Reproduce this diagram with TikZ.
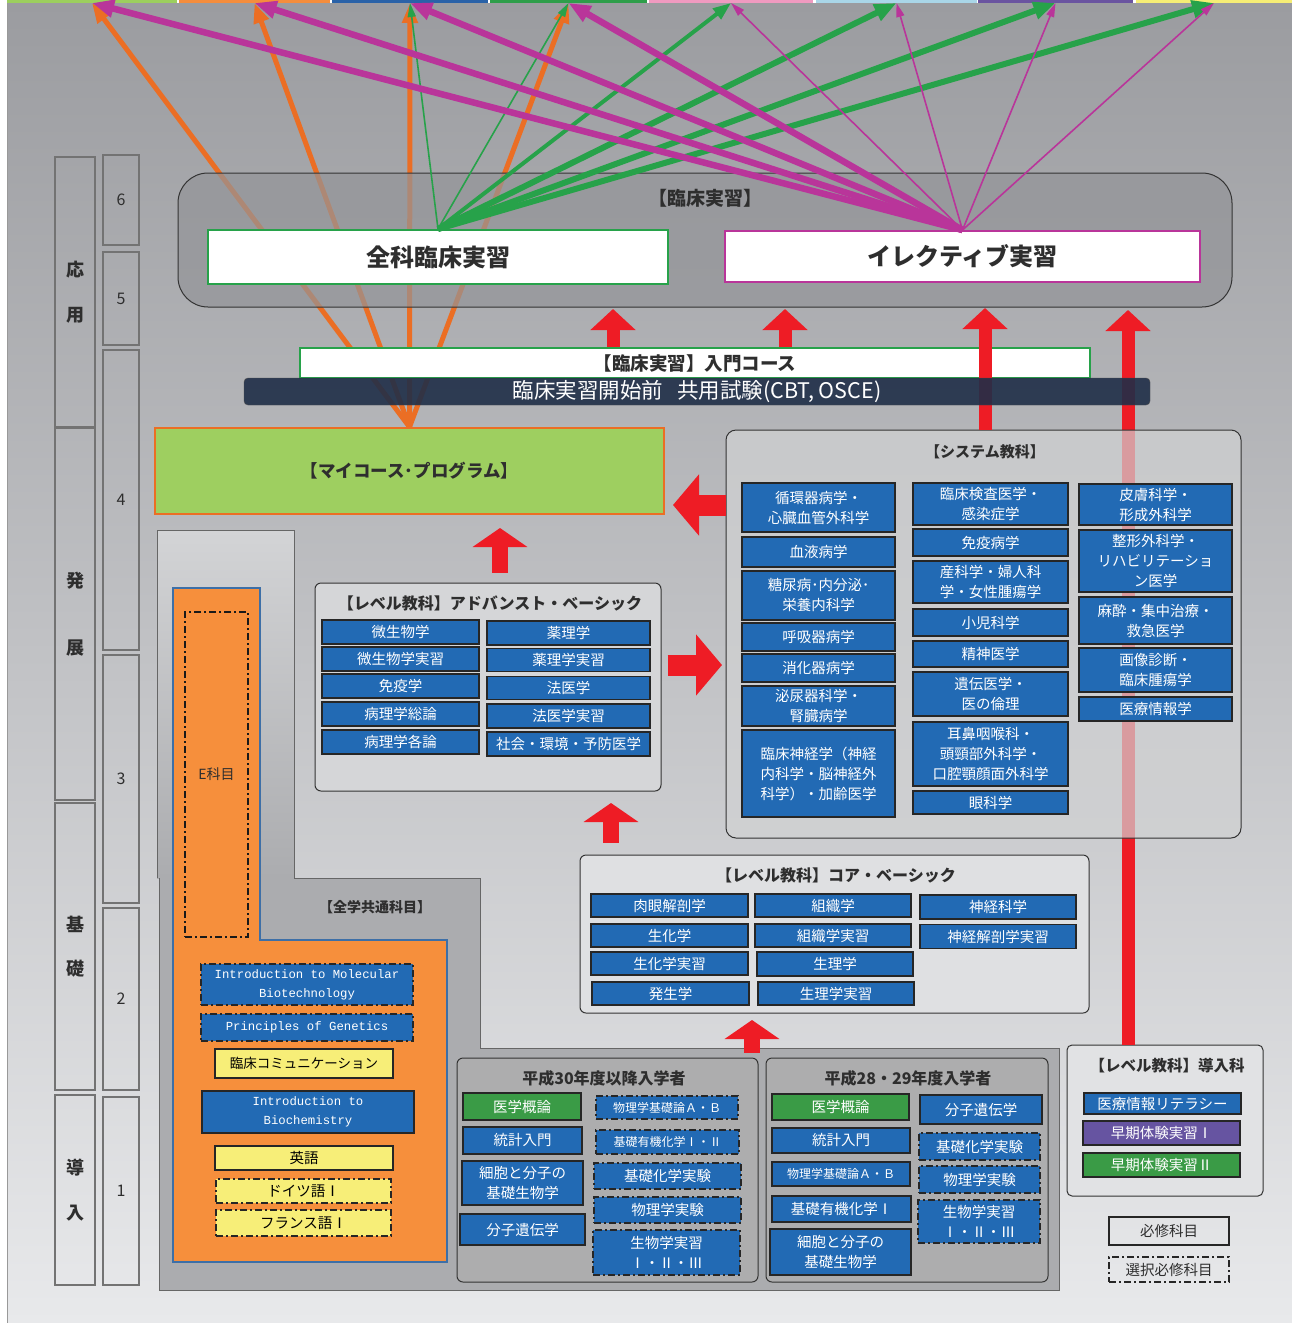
\documentclass[tikz,border=0pt]{standalone}
\usepackage{fontspec}
\setmainfont{Noto Sans CJK JP}
\newfontfamily\monofont{Liberation Mono}
\usetikzlibrary{arrows.meta}

\definecolor{bgtop}{HTML}{9B9CA0}
\definecolor{bgbot}{HTML}{E8E9EB}
\definecolor{segA}{HTML}{9CCF5E}
\definecolor{segB}{HTML}{F58D3D}
\definecolor{segC}{HTML}{2A62A8}
\definecolor{segD}{HTML}{2E9E4A}
\definecolor{segE}{HTML}{F09AC0}
\definecolor{segF}{HTML}{A9D6E8}
\definecolor{segG}{HTML}{6A54A0}
\definecolor{segH}{HTML}{F6EE75}
\definecolor{itemblue}{HTML}{226AB4}
\definecolor{itemgreen}{HTML}{3A9B46}
\definecolor{itempurple}{HTML}{6654A1}
\definecolor{itemyellow}{HTML}{F7EE78}
\definecolor{regionorange}{HTML}{F68F3C}
\definecolor{regionblue}{HTML}{3D6FA7}
\definecolor{courselime}{HTML}{9ECF60}
\definecolor{lineorange}{HTML}{EB6E24}
\definecolor{linegreen}{HTML}{27A24A}
\definecolor{linemagenta}{HTML}{B9359A}
\definecolor{arrowred}{HTML}{EE1C25}
\definecolor{navy}{HTML}{1F2E48}
\definecolor{titlegray}{HTML}{2E2E2E}
\definecolor{commongray}{HTML}{ABACAF}
\definecolor{panellight}{HTML}{D3D4D6}

\begin{document}
\begin{tikzpicture}[x=1pt,y=-1pt,
    sz/.style 2 args={minimum width=#1pt,minimum height=#2pt},
    seg/.style={inner sep=0pt,outer sep=0pt},
    col/.style={draw=black!55,line width=1.2pt,inner sep=0pt,align=center,text=titlegray},
    group/.style={draw=black!80,line width=1pt,rounded corners=6pt,inner sep=0pt},
    title/.style={text=titlegray,inner sep=0pt,font=\bfseries\fontsize{16}{18}\selectfont},
    item/.style={draw=black!85,line width=1.5pt,fill=itemblue,text=white,align=center,
                 inner sep=0pt,font=\fontsize{14.5}{20}\selectfont},
    small/.style={font=\fontsize{12}{16}\selectfont},
    sel/.style={dash pattern=on 7pt off 3pt on 2pt off 3pt},
    yitem/.style={item,fill=itemyellow,text=black},
    eng/.style={font=\monofont\fontsize{12.3}{19}\selectfont},
    up/.style={draw=arrowred,line width=13pt,-{Triangle[width=44pt,length=21pt]}},
    up big/.style={draw=arrowred,line width=16pt,-{Triangle[width=54pt,length=19pt]}},
    side/.style={draw=arrowred,line width=21pt,-{Triangle[width=60pt,length=26pt]}},
    ora/.style={draw=lineorange,line width=5pt,-{Triangle[width=15pt,length=20pt]}},
    grn/.style={draw=linegreen,line width=6pt,-{Triangle[width=17pt,length=22pt]}},
    grn mid/.style={draw=linegreen,line width=4pt,-{Triangle[width=13pt,length=18pt]}},
    grn thin/.style={draw=linegreen,line width=1.6pt,-{Triangle[width=8pt,length=14pt]}},
    mag/.style={draw=linemagenta,line width=6.5pt,-{Triangle[width=17pt,length=22pt]}},
    mag thin/.style={draw=linemagenta,line width=1.6pt,-{Triangle[width=8pt,length=14pt]}}]

  \useasboundingbox (0,0) rectangle (1292,1323);
  \shade[top color=bgtop,bottom color=bgbot] (7,3) rectangle (1292,1323);
  \draw[black!40,line width=1pt] (7,3) -- (7,1323);

  \node[seg,fill=segA,sz={170}{3}] (s1) at (92,1.5) {};
  \node[seg,fill=segB,sz={151}{3}] (s2) at (254.5,1.5) {};
  \node[seg,fill=segC,sz={156}{3}] (s3) at (410,1.5) {};
  \node[seg,fill=segD,sz={157}{3}] (s4) at (568.5,1.5) {};
  \node[seg,fill=segE,sz={164}{3}] (s5) at (731,1.5) {};
  \node[seg,fill=segF,sz={161}{3}] (s6) at (896.5,1.5) {};
  \node[seg,fill=segG,sz={155}{3}] (s7) at (1055.5,1.5) {};
  \node[seg,fill=segH,sz={156}{3}] (s8) at (1214,1.5) {};

  \node[col,sz={40}{270},font=\bfseries\fontsize{18}{45}\selectfont] (c1) at (75,292) {応\\用};
  \node[col,sz={40}{372},font=\bfseries\fontsize{18}{67}\selectfont] (c2) at (75,614) {発\\展};
  \node[col,sz={40}{287},font=\bfseries\fontsize{18}{44}\selectfont] (c3) at (75,946.5) {基\\礎};
  \node[col,sz={40}{190},font=\bfseries\fontsize{18}{45}\selectfont] (c4) at (75,1190) {導\\入};

  \node[col,sz={36}{90},font=\fontsize{16}{18}\selectfont] (y6) at (121,200) {6};
  \node[col,sz={36}{93},font=\fontsize{16}{18}\selectfont] (y5) at (121,298.5) {5};
  \node[col,sz={36}{300},font=\fontsize{16}{18}\selectfont] (y4) at (121,500) {4};
  \node[col,sz={36}{248},font=\fontsize{16}{18}\selectfont] (y3) at (121,779) {3};
  \node[col,sz={36}{182},font=\fontsize{16}{18}\selectfont] (y2) at (121,999) {2};
  \node[col,sz={36}{188},font=\fontsize{16}{18}\selectfont] (y1) at (121,1191) {1};

  \fill[commongray] (157,530) -- (294,530) -- (294,878) -- (480,878) -- (480,1048)
    -- (1059,1048) -- (1059,1290) -- (159,1290) -- (159,878) -- (157,878) -- cycle;
  \shade[top color=panellight,bottom color=commongray] (157,530) rectangle (294,878);
  \draw[black!60,line width=1pt] (157,878) -- (157,530) -- (294,530) -- (294,878) -- (480,878)
    -- (480,1048) -- (1059,1048) -- (1059,1290) -- (159,1290) -- (159,878);

  \draw[fill=regionorange,draw=regionblue,line width=2pt] (173,588) -- (260,588) -- (260,940)
    -- (447,940) -- (447,1262) -- (173,1262) -- cycle;
  \node[draw=black!90,line width=1.5pt,sel,sz={63}{325},inner sep=0pt,text=titlegray,
        font=\fontsize{14}{16}\selectfont] (e) at (216.5,774.5) {E科目};
  \node[title,font=\bfseries\fontsize{14}{16}\selectfont] (zt) at (375,907) {【全学共通科目】};

  \node[item,sel,eng,sz={212}{41}] (o1) at (307,984.5) {Introduction to Molecular\\Biotechnology};
  \node[item,sel,eng,sz={212}{27}] (o2) at (307,1027.5) {Principles of Genetics};
  \node[yitem,sz={178}{29},font=\fontsize{13.5}{16}\selectfont] (o3) at (304,1063.5) {臨床コミュニケーション};
  \node[item,eng,sz={212}{42}] (o4) at (308,1112) {Introduction to\\Biochemistry};
  \node[yitem,sz={178}{24}] (o5) at (304,1158) {英語};
  \node[yitem,sel,sz={175}{24}] (o6) at (303.5,1191) {ドイツ語Ⅰ};
  \node[yitem,sel,sz={175}{26}] (o7) at (303.5,1223) {フランス語Ⅰ};

  \node[group,fill=black!30!white!75!bgtop,sz={301}{224}] (h30) at (607.5,1170) {};
  \node[title] (h3t) at (604,1078) {平成30年度以降入学者};
  \node[item,fill=itemgreen,sz={118}{27}] (p1) at (522,1106.5) {医学概論};
  \node[item,sz={119}{27}] (p2) at (522.5,1140.5) {統計入門};
  \node[item,sz={121}{44}] (p3) at (522.5,1183) {細胞と分子の\\基礎生物学};
  \node[item,sz={125}{31}] (p4) at (522.5,1229.5) {分子遺伝学};
  \node[item,sel,small,sz={142}{23}] (p5) at (667,1107.5) {物理学基礎論Ａ・Ｂ};
  \node[item,sel,small,sz={143}{24}] (p6) at (667.5,1142) {基礎有機化学Ⅰ・Ⅱ};
  \node[item,sel,sz={147}{26}] (p7) at (667.5,1176) {基礎化学実験};
  \node[item,sel,sz={147}{26}] (p8) at (667.5,1210) {物理学実験};
  \node[item,sel,sz={147}{45}] (p9) at (666.5,1252.5) {生物学実習\\Ⅰ・Ⅱ・Ⅲ};

  \node[group,fill=black!30!white!75!bgtop,sz={282}{224}] (h28) at (907,1170) {};
  \node[title] (h2t) at (908,1078) {平成28・29年度入学者};
  \node[item,fill=itemgreen,sz={137}{26}] (q1) at (840.5,1107) {医学概論};
  \node[item,sz={138}{25}] (q2) at (841,1140.5) {統計入門};
  \node[item,small,sz={138}{24}] (q3) at (841,1174) {物理学基礎論Ａ・Ｂ};
  \node[item,sz={139}{26}] (q4) at (841.5,1209) {基礎有機化学Ⅰ};
  \node[item,sz={141}{46}] (q5) at (840.5,1252) {細胞と分子の\\基礎生物学};
  \node[item,sz={122}{29}] (q6) at (981,1109.5) {分子遺伝学};
  \node[item,sel,sz={121}{27}] (q7) at (979.5,1146.5) {基礎化学実験};
  \node[item,sel,sz={121}{27}] (q8) at (979.5,1179.5) {物理学実験};
  \node[item,sel,sz={122}{43}] (q9) at (979,1221.5) {生物学実習\\Ⅰ・Ⅱ・Ⅲ};

  \node[group,rounded corners=5pt,fill=black!3!bgbot,sz={196}{151}] (intro) at (1165,1120.5) {};
  \node[title,font=\bfseries\fontsize{15.5}{18}\selectfont] (it) at (1167,1066) {【レベル教科】導入科};
  \node[item,sz={157}{21}] (i1) at (1162.5,1103.5) {医療情報リテラシー};
  \node[item,fill=itempurple,sz={157}{24}] (i2) at (1161.5,1133) {早期体験実習Ⅰ};
  \node[item,fill=itemgreen,sz={157}{24}] (i3) at (1161.5,1165) {早期体験実習Ⅱ};

  \node[draw=black!85,line width=2pt,sz={120}{28},inner sep=0pt,text=titlegray,
        font=\fontsize{14.5}{16}\selectfont] (l1) at (1169,1231) {必修科目};
  \node[draw=black!85,line width=2pt,sel,sz={120}{25},inner sep=0pt,text=titlegray,
        font=\fontsize{14.5}{16}\selectfont] (l2) at (1169,1269.5) {選択必修科目};

  \node[group,fill=black!4!bgbot,sz={509}{158}] (core) at (834.5,934) {};
  \node[title] (kt) at (836,875) {【レベル教科】コア・ベーシック};
  \node[item,sz={157}{23}] (k1) at (669.5,905.5) {肉眼解剖学};
  \node[item,sz={157}{23}] (k2) at (669.5,935.5) {生化学};
  \node[item,sz={157}{23}] (k3) at (669.5,963.5) {生化学実習};
  \node[item,sz={157}{23}] (k4) at (670.5,993.5) {発生学};
  \node[item,sz={156}{23}] (k5) at (833,905.5) {組織学};
  \node[item,sz={156}{23}] (k6) at (833,935.5) {組織学実習};
  \node[item,sz={156}{24}] (k7) at (835,964) {生理学};
  \node[item,sz={156}{23}] (k8) at (836,993.5) {生理学実習};
  \node[item,sz={156}{24}] (k9) at (998,907) {神経科学};
  \node[item,sz={156}{24}] (k10) at (998,936.5) {神経解剖学実習};

  \node[group,fill=black!8!bgbot,sz={346}{208}] (adv) at (488,687) {};
  \node[title] (at) at (490,603) {【レベル教科】アドバンスト・ベーシック};
  \node[item,sz={157}{24}] (a1) at (400.5,632) {微生物学};
  \node[item,sz={157}{24}] (a2) at (400.5,659) {微生物学実習};
  \node[item,sz={157}{24}] (a3) at (400.5,686) {免疫学};
  \node[item,sz={157}{24}] (a4) at (400.5,714) {病理学総論};
  \node[item,sz={157}{24}] (a5) at (400.5,742) {病理学各論};
  \node[item,sz={163}{24}] (a6) at (568.5,633) {薬理学};
  \node[item,sz={163}{23}] (a7) at (568.5,660) {薬理学実習};
  \node[item,sz={163}{23}] (a8) at (568.5,688) {法医学};
  \node[item,sz={163}{24}] (a9) at (568.5,716) {法医学実習};
  \node[item,sz={163}{24}] (a10) at (568.5,744) {社会・環境・予防医学};

  \node[draw=lineorange,line width=2pt,fill=courselime,sz={509}{86},inner sep=0pt,text=titlegray,
        font=\bfseries\fontsize{17.5}{20}\selectfont] (my) at (409.5,471) {【マイコース･プログラム】};
  \path (my.north) edge[ora] (s1.south)
                   edge[ora] (s2.south)
                   edge[ora] (s3.south)
                   edge[ora] (s4.south);

  \node[draw=black!80,line width=1pt,rounded corners=30pt,fill=black!5!bgtop,fill opacity=0.7,
        sz={1054}{134}] (clin) at (705,240) {};
  \node[title,font=\bfseries\fontsize{19}{20}\selectfont] (ct) at (705,198) {【臨床実習】};
  \node[draw=linegreen,line width=2pt,fill=white,sz={460}{54},inner sep=0pt,text=titlegray,
        font=\bfseries\fontsize{24}{26}\selectfont] (zen) at (438,257) {全科臨床実習};
  \node[draw=linemagenta,line width=2pt,fill=white,sz={475}{51},inner sep=0pt,text=titlegray,
        font=\bfseries\fontsize{24}{26}\selectfont] (ele) at (962.5,256.5) {イレクティブ実習};
  \node[draw=linegreen,line width=1.5pt,fill=white,sz={790}{30},inner sep=0pt,text=titlegray,
        font=\bfseries\fontsize{18.5}{20}\selectfont] (entry) at (695,363) {【臨床実習】入門コース};

  \coordinate (r1) at (613,309);
  \coordinate (r2) at (785,309);
  \coordinate (r3) at (985,308);
  \coordinate (r4) at (1128,310);
  \draw[up] (r1 |- entry.north) -- (r1);
  \draw[up] (r2 |- entry.north) -- (r2);
  \draw[up] (r4 |- intro.north) -- (r4);

  \node[group,rounded corners=10pt,fill=black!10!bgbot,fill opacity=0.7,sz={515}{408}] (sys) at (983.5,634) {};
  \node[title,font=\bfseries\fontsize{15}{18}\selectfont] (st) at (985,452) {【システム教科】};
  \node[item,sz={153}{49}] (b1) at (818.5,507.5) {循環器病学・\\心臓血管外科学};
  \node[item,sz={153}{30}] (b2) at (818.5,552) {血液病学};
  \node[item,sz={153}{49}] (b3) at (818.5,595.5) {糖尿病･内分泌･\\栄養内科学};
  \node[item,sz={153}{28}] (b4) at (818.5,637) {呼吸器病学};
  \node[item,sz={153}{28}] (b5) at (818.5,668) {消化器病学};
  \node[item,sz={153}{40}] (b6) at (818.5,706) {泌尿器科学・\\腎臓病学};
  \node[item,sz={153}{87}] (b7) at (818.5,773.5) {臨床神経学（神経\\内科学・脳神経外\\科学）・加齢医学};
  \node[item,sz={155}{42}] (b8) at (990.5,504) {臨床検査医学・\\感染症学};
  \node[item,sz={155}{27}] (b9) at (990.5,542.5) {免疫病学};
  \node[item,sz={155}{42}] (b10) at (990.5,582) {産科学・婦人科\\学・女性腫瘍学};
  \node[item,sz={155}{27}] (b11) at (990.5,622.5) {小児科学};
  \node[item,sz={155}{26}] (b12) at (990.5,654) {精神医学};
  \node[item,sz={155}{44}] (b13) at (990.5,694) {遺伝医学・\\医の倫理};
  \node[item,sz={155}{64}] (b14) at (990.5,754) {耳鼻咽喉科・\\頭頸部外科学・\\口腔顎顔面外科学};
  \node[item,sz={155}{23}] (b15) at (990.5,802.5) {眼科学};
  \node[item,sz={153}{41}] (b16) at (1155.5,504.5) {皮膚科学・\\形成外科学};
  \node[item,sz={153}{62}] (b17) at (1155.5,561) {整形外科学・\\リハビリテーショ\\ン医学};
  \node[item,sz={153}{47}] (b18) at (1155.5,620.5) {麻酔・集中治療・\\救急医学};
  \node[item,sz={153}{44}] (b19) at (1155.5,670) {画像診断・\\臨床腫瘍学};
  \node[item,sz={153}{24}] (b20) at (1155.5,709) {医療情報学};
  \draw[up] (r3 |- sys.north) -- (r3);

  \node[draw=black!70,fill=navy,fill opacity=0.9,text opacity=1,rounded corners=4pt,sz={906}{27},
        inner sep=0pt,text=white,font=\fontsize{21.5}{22}\selectfont] (cbt) at (697,391.5)
        {臨床実習開始前\hspace{14pt}共用試験(CBT, OSCE)};

  \path (zen.north) edge[grn thin] (s3.south)
                    edge[grn thin] (s4.south)
                    edge[grn mid] (s5.south)
                    edge[grn] (s6.south)
                    edge[grn] (s7.south)
                    edge[grn] (s8.south);
  \path (ele.north) edge[mag] (s1.south)
                    edge[mag] (s2.south)
                    edge[mag] (s3.south)
                    edge[mag] (s4.south)
                    edge[mag thin] (s5.south)
                    edge[mag thin] (s6.south)
                    edge[mag thin] (s7.south)
                    edge[mag thin] (s8.south);

  \coordinate (r5) at (673,505);
  \coordinate (r6) at (500,528);
  \coordinate (r7) at (722,665);
  \coordinate (r8) at (611,803);
  \coordinate (r9) at (752,1020);
  \draw[side] (r5 -| sys.west) -- (r5);
  \draw[up big,shorten <=10pt] (r6 |- adv.north) -- (r6);
  \draw[side,shorten <=6pt] (r7 -| adv.east) -- (r7);
  \draw[up big,shorten <=12pt] (r8 |- core.north) -- (r8);
  \draw[up big,shorten <=5pt] (r9 |- h30.north) -- (r9);
\end{tikzpicture}
\end{document}
